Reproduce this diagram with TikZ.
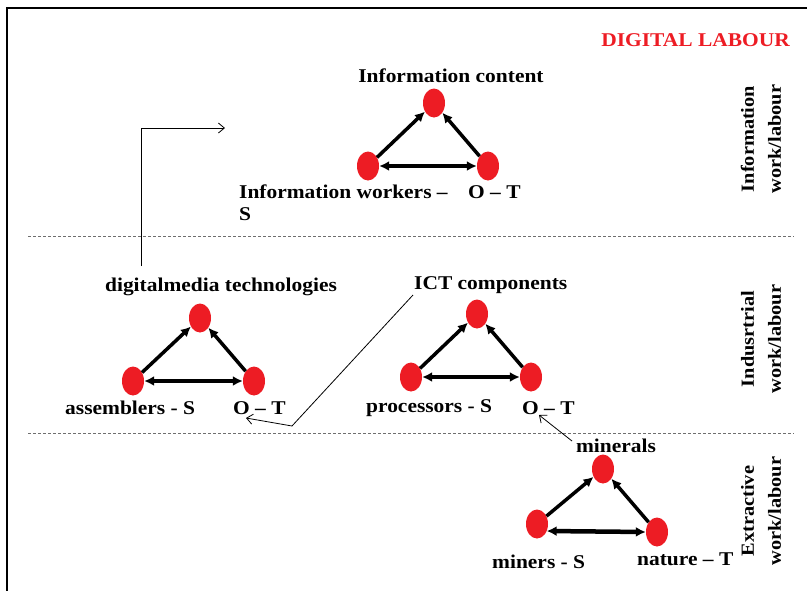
\documentclass[tikz,border=0pt]{standalone}
\usepackage{fontspec}
\setmainfont{Liberation Serif}[FakeStretch=1.1]
\usetikzlibrary{arrows.meta,shapes.geometric}
\definecolor{dotred}{RGB}{237,28,36}
\definecolor{dashgray}{RGB}{110,110,110}
\begin{document}
\begin{tikzpicture}[x=1pt,y=-1pt,
  dot/.style={ellipse,fill=dotred,minimum width=22pt,minimum height=29pt,inner sep=0pt},
  side/.style={line width=3.5pt,-{Latex[length=10pt,width=10pt]}},
  base/.style={line width=4.5pt,{Latex[length=10pt,width=10pt]}-{Latex[length=10pt,width=10pt]}},
  lbl/.style={font=\fontsize{19.5}{23}\selectfont\bfseries,inner sep=0pt},
  side label/.style={font=\fontsize{18.5}{27}\selectfont\bfseries,inner sep=0pt,rotate=90,align=center},
  thin arrow/.style={line width=0.8pt,-{Straight Barb[length=6pt,width=10pt]}},
  sep/.style={dashgray,line width=1pt,dash pattern=on 3pt off 2pt}
]
\useasboundingbox (0,0) rectangle (807,590);
% frame
\draw[line width=2pt] (6.5,591) -- (6.5,7.5) -- (808,7.5);
% separators
\draw[sep] (28,236) -- (794,236);
\draw[sep] (28,433) -- (794,433);
% title
\node[lbl,text=dotred,anchor=east] (title) at (790,40) {DIGITAL LABOUR};
% side labels
\node[side label] (sl1) at (761,139) {Information\\work/labour};
\node[side label] (sl2) at (761,339) {Indusrtrial\\work/labour};
\node[side label] (sl3) at (761,511) {Extractive\\work/labour};

% top triangle
\node[dot] (t1) at (434,103) {};
\node[dot] (l1) at (368,166) {};
\node[dot] (r1) at (488,166) {};
\draw[side] (l1) -- (t1);
\draw[side] (r1) -- (t1);
\draw[base] (l1) -- (r1);
\node[lbl] (lt1) at (451,76) {Information content};
\node[lbl,anchor=west] (ll1) at (239,192) {Information workers --};
\node[lbl,anchor=west] (ll1b) at (239,214) {S};
\node[lbl,anchor=west] (lr1) at (468,192) {O -- T};

% middle left triangle
\node[dot] (t2) at (200,318) {};
\node[dot] (l2) at (133,381) {};
\node[dot] (r2) at (254,381) {};
\draw[side] (l2) -- (t2);
\draw[side] (r2) -- (t2);
\draw[base] (l2) -- (r2);
\node[lbl] (lt2) at (221,287) {digitalmedia technologies};
\node[lbl,anchor=west] (ll2) at (65,408) {assemblers - S};
\node[lbl,anchor=west] (lr2) at (233,408) {O -- T};

% middle right triangle
\node[dot] (t3) at (477,314) {};
\node[dot] (l3) at (411,377) {};
\node[dot] (r3) at (531,377) {};
\draw[side] (l3) -- (t3);
\draw[side] (r3) -- (t3);
\draw[base] (l3) -- (r3);
\node[lbl,anchor=west] (lt3) at (414,285) {ICT components};
\node[lbl,anchor=west] (ll3) at (366,408) {processors - S};
\node[lbl,anchor=west] (lr3) at (522,408) {O -- T};

% bottom triangle
\node[dot] (t4) at (603,469) {};
\node[dot] (l4) at (537,524) {};
\node[dot] (r4) at (657,532) {};
\draw[side] (l4) -- (t4);
\draw[side] (r4) -- (t4);
\draw[base] ([xshift=-1.5pt,yshift=-7pt]l4.east) -- (r4.west);
\node[lbl] (lt4) at (616,446) {minerals};
\node[lbl,anchor=west] (ll4) at (492,562) {miners - S};
\node[lbl,anchor=west] (lr4) at (637,559) {nature -- T};

% connectors
\coordinate (c1s) at (141,266);
\coordinate (c1e) at (225,128);
\draw[thin arrow] (c1s) |- (c1e);
\coordinate (c2s) at (413,295);
\coordinate (c2m) at (292,426);
\coordinate (c2e) at (246,418);
\draw[thin arrow] (c2s) -- (c2m) -- (c2e);
\coordinate (c3s) at (572,441);
\coordinate (c3e) at (539,415);
\draw[thin arrow] (c3s) -- (c3e);
\end{tikzpicture}
\end{document}
